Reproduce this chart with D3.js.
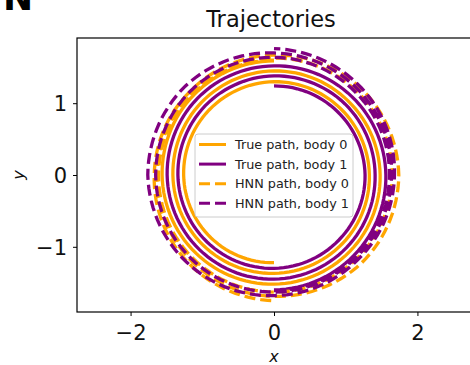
<!DOCTYPE html>
<html>
<head>
<meta charset="utf-8">
<script src="https://cdn.jsdelivr.net/npm/d3@7"></script>
<style>
  html, body { margin: 0; padding: 0; background: #fff; }
  svg { display: block; font-family: "DejaVu Sans", sans-serif; }
</style>
</head>
<body>
<svg id="chart" width="470" height="365"></svg>
<script>
// Orbit samples every 45 degrees (angles in degrees, radii in plot units).
// Body 1 sits opposite body 0, so its angle is offset by 180 degrees.
const sampleAngles = d3.range(90, 991, 45);

const trueBody0R = [1.59, 1.58, 1.56, 1.54, 1.52, 1.50, 1.48, 1.46, 1.45, 1.43, 1.41,
                    1.39, 1.37, 1.35, 1.33, 1.31, 1.30, 1.28, 1.26, 1.24, 1.22];
const trueBody1R = [1.60, 1.58, 1.56, 1.54, 1.52, 1.51, 1.49, 1.47, 1.45, 1.43, 1.41,
                    1.40, 1.38, 1.36, 1.34, 1.32, 1.30, 1.28, 1.27, 1.25, 1.24];
const hnnBody0R  = [1.60, 1.60, 1.61, 1.62, 1.63, 1.64, 1.65, 1.64, 1.63, 1.62, 1.63,
                    1.66, 1.69, 1.73, 1.74, 1.71, 1.67, 1.65, 1.67, 1.71, 1.75];
const hnnBody1R  = [1.61, 1.60, 1.61, 1.62, 1.64, 1.65, 1.65, 1.64, 1.63, 1.62, 1.64,
                    1.67, 1.70, 1.75, 1.76, 1.72, 1.68, 1.66, 1.68, 1.72, 1.76];

const seriesNames = ["True path, body 0", "True path, body 1", "HNN path, body 0", "HNN path, body 1"];
const xTicks = [-2, 0, 2];
const yTicks = [-1, 0, 1];

const ORANGE = "#ffa500", PURPLE = "#800080";
const series = [
  { name: seriesNames[0], r: trueBody0R, offset: 0,   color: ORANGE, dash: null },
  { name: seriesNames[1], r: trueBody1R, offset: 180, color: PURPLE, dash: null },
  { name: seriesNames[2], r: hnnBody0R,  offset: 0,   color: ORANGE, dash: "11,5" },
  { name: seriesNames[3], r: hnnBody1R,  offset: 180, color: PURPLE, dash: "11,5" }
];

const svg = d3.select("#chart");
const plotLeft = 77, plotRight = 471, plotTop = 38, plotBottom = 312;

const x = d3.scaleLinear().domain([-2.747, 2.747]).range([plotLeft, plotRight]);
const y = d3.scaleLinear().domain([-1.908, 1.908]).range([plotBottom, plotTop]);

svg.append("defs").append("clipPath").attr("id", "plotclip")
  .append("rect").attr("x", plotLeft).attr("y", plotTop)
  .attr("width", plotRight - plotLeft).attr("height", plotBottom - plotTop);

const fmt = d => (d < 0 ? "\u2212" + Math.abs(d) : String(d));

// Axes
const xAxis = svg.append("g").attr("transform", `translate(0,${plotBottom})`)
  .call(d3.axisBottom(x).tickValues(xTicks).tickSize(4).tickPadding(9).tickFormat(fmt));
const yAxis = svg.append("g").attr("transform", `translate(${plotLeft},0)`)
  .call(d3.axisLeft(y).tickValues(yTicks).tickSize(4).tickPadding(6).tickFormat(fmt));
[xAxis, yAxis].forEach(g => {
  g.select(".domain").remove();
  g.selectAll(".tick line").attr("stroke", "#000").attr("stroke-width", 1);
  g.selectAll(".tick text").attr("fill", "#111")
    .style("font-family", "DejaVu Sans").style("font-size", "21px");
});
yAxis.selectAll(".tick text").attr("dy", "0.36em");

// Trajectories: the radius follows the samples piecewise in angle,
// traced in small angular steps so each turn stays round.
const line = d3.line().x(d => x(d[0])).y(d => y(d[1]));
const plot = svg.append("g").attr("clip-path", "url(#plotclip)");
series.forEach(s => {
  const radiusAt = d3.scaleLinear().domain(sampleAngles).range(s.r);
  const a0 = sampleAngles[0], a1 = sampleAngles[sampleAngles.length - 1];
  const pts = d3.range(a0, a1 + 0.001, 3).map(a => {
    const t = (a + s.offset) * Math.PI / 180;
    const r = radiusAt(a);
    return [r * Math.cos(t), r * Math.sin(t)];
  });
  plot.append("path")
    .attr("d", line(pts))
    .attr("fill", "none")
    .attr("stroke", s.color)
    .attr("stroke-width", 3.3)
    .attr("stroke-dasharray", s.dash);
});

// Frame
svg.append("rect")
  .attr("x", plotLeft).attr("y", plotTop)
  .attr("width", plotRight - plotLeft).attr("height", plotBottom - plotTop)
  .attr("fill", "none").attr("stroke", "#000").attr("stroke-width", 1.2);

// Title and labels
svg.append("text").attr("x", 271).attr("y", 27)
  .attr("text-anchor", "middle").attr("fill", "#111")
  .style("font-size", "22.5px").text("Trajectories");

svg.append("text").attr("x", 274).attr("y", 362)
  .attr("text-anchor", "middle").attr("fill", "#111")
  .style("font-size", "16px").style("font-style", "italic").text("x");

svg.append("text")
  .attr("transform", "translate(24,175) rotate(-90)")
  .attr("text-anchor", "middle").attr("fill", "#111")
  .style("font-size", "16px").style("font-style", "italic").text("y");

svg.append("text").attr("x", 3).attr("y", 10)
  .attr("fill", "#000").style("font-weight", "bold")
  .style("font-size", "36px").text("N");

// Legend
const legend = svg.append("g");
legend.append("rect")
  .attr("x", 195).attr("y", 134).attr("width", 158).attr("height", 83)
  .attr("rx", 3).attr("fill", "#fff").attr("fill-opacity", 0.8)
  .attr("stroke", "#cccccc").attr("stroke-width", 1);
series.forEach((s, i) => {
  const cy = 144.5 + i * 19.6;
  legend.append("line")
    .attr("x1", 199).attr("x2", 226).attr("y1", cy).attr("y2", cy)
    .attr("stroke", s.color).attr("stroke-width", 3)
    .attr("stroke-dasharray", s.dash);
  legend.append("text")
    .attr("x", 235).attr("y", cy).attr("dy", "0.36em")
    .attr("fill", "#222").style("font-size", "12.8px").text(s.name);
});
</script>
</body>
</html>
